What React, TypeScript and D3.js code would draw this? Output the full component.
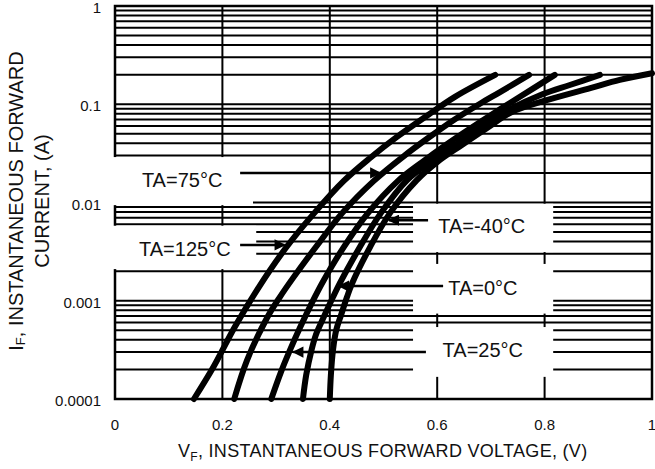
import React from "react";
import * as d3 from "d3";

// forward voltage (V) / forward current (A)
const vf125 = [0.147, 0.183, 0.223, 0.268, 0.318, 0.371, 0.426, 0.475, 0.525, 0.583, 0.633, 0.708];
const if125 = [0.0001, 0.00021, 0.00054, 0.00138, 0.00344, 0.0078, 0.0166, 0.0284, 0.0465, 0.0778, 0.119, 0.199];

const vf75 = [0.222, 0.246, 0.283, 0.307, 0.333, 0.374, 0.423, 0.482, 0.538, 0.583, 0.631, 0.682, 0.717, 0.771];
const if75 = [0.0001, 0.000249, 0.000667, 0.00109, 0.00175, 0.00352, 0.0078, 0.0166, 0.0297, 0.0453, 0.0692, 0.103, 0.133, 0.199];

const vf25 = [0.291, 0.309, 0.326, 0.345, 0.372, 0.389, 0.426, 0.471, 0.527, 0.572, 0.616, 0.663, 0.709, 0.754, 0.819];
const if25 = [0.0001, 0.000188, 0.000316, 0.00054, 0.00109, 0.00163, 0.00352, 0.0078, 0.0166, 0.0258, 0.0385, 0.0573, 0.0834, 0.119, 0.199];

const vf0 = [0.35, 0.356, 0.366, 0.374, 0.382, 0.406, 0.419, 0.456, 0.495, 0.544, 0.587, 0.633, 0.68, 0.726, 0.797, 0.847, 0.903];
const if0 = [0.0001, 0.000175, 0.000316, 0.000448, 0.000566, 0.00109, 0.00152, 0.00352, 0.0078, 0.0169, 0.0258, 0.0385, 0.0573, 0.0834, 0.127, 0.157, 0.199];

const vfM40 = [0.4, 0.402, 0.406, 0.412, 0.421, 0.432, 0.441, 0.475, 0.512, 0.562, 0.6, 0.646, 0.693, 0.739, 0.804, 0.885, 0.94, 1.0];
const ifM40 = [0.0001, 0.000175, 0.000316, 0.000503, 0.000716, 0.00109, 0.00148, 0.00352, 0.0078, 0.0169, 0.0258, 0.0385, 0.0573, 0.0834, 0.11, 0.146, 0.177, 0.207];

const series = [
  {name: "125", vf: vf125, i: if125},
  {name: "75", vf: vf75, i: if75},
  {name: "25", vf: vf25, i: if25},
  {name: "0", vf: vf0, i: if0},
  {name: "-40", vf: vfM40, i: ifM40},
];

const xTicks = [0, 0.2, 0.4, 0.6, 0.8, 1];
const xTickLabels = ["0", "0.2", "0.4", "0.6", "0.8", "1"];
const yTicks = [0.0001, 0.001, 0.01, 0.1, 1];
const yTickLabels = ["0.0001", "0.001", "0.01", "0.1", "1"];

// callouts, in data units: white box [vf0, vf1, iTop, iBottom], arrow [from, tip, current], text centre
const callouts = [
  {label: "TA=75°C", box: [-0.006, 0.257, 0.029, 0.0094], arrow: [0.233, 0.494, 0.02], text: [0.125, 0.0169]},
  {label: "TA=125°C", box: [-0.006, 0.263, 0.0058, 0.0021], arrow: [0.233, 0.316, 0.0037], text: [0.13, 0.00336]},
  {label: "TA=-40°C", box: [0.555, 0.816, 0.0097, 0.00313], arrow: [0.583, 0.51, 0.0066], text: [0.683, 0.00577]},
  {label: "TA=0°C", box: [0.555, 0.816, 0.00237, 0.00074], arrow: [0.611, 0.417, 0.00141], text: [0.685, 0.00135]},
  {label: "TA=25°C", box: [0.555, 0.816, 0.00054, 0.000168], arrow: [0.579, 0.332, 0.0003], text: [0.685, 0.000317]},
];

const W = 655, H = 469;
const margin = {top: 6, right: 3, bottom: 70, left: 115};
const font = "'Liberation Sans', Arial, sans-serif";

export default function App() {
  const x = d3.scaleLinear().domain([0, 1]).range([margin.left, W - margin.right]);
  const y = d3.scaleLog().domain([0.0001, 1]).range([H - margin.bottom, margin.top]);

  const line = d3.line<[number, number]>()
    .x(d => x(d[0]))
    .y(d => y(d[1]))
    .curve(d3.curveCatmullRom.alpha(0.5));

  const hGrid = y.ticks();
  const vGrid = xTicks.slice(1, -1);

  return (
    <svg width={W} height={H} style={{position: "absolute", left: 0, top: 0, background: "#fff"}}
         fontFamily={font}>
      <defs>
        <marker id="head" viewBox="0 0 10 10" refX="9" refY="5" markerWidth="5" markerHeight="4.5"
                orient="auto" markerUnits="strokeWidth">
          <path d="M0,0 L10,5 L0,10 z" fill="#000"/>
        </marker>
      </defs>

      {hGrid.map((t, k) => (
        <line key={"h" + k} x1={x(0)} x2={x(1)} y1={y(t)} y2={y(t)} stroke="#000" strokeWidth={2}/>
      ))}
      {vGrid.map((t, k) => (
        <line key={"v" + k} x1={x(t)} x2={x(t)} y1={y(1)} y2={y(0.0001)} stroke="#000" strokeWidth={2}/>
      ))}
      <rect x={x(0)} y={y(1)} width={x(1) - x(0)} height={y(0.0001) - y(1)} fill="none" stroke="#000" strokeWidth={2.5}/>

      {callouts.map((c, k) => (
        <rect key={"b" + k} x={x(c.box[0])} y={y(c.box[2])} width={x(c.box[1]) - x(c.box[0])}
              height={y(c.box[3]) - y(c.box[2])} fill="#fff"/>
      ))}

      {series.map(s => (
        <path key={s.name} d={line(s.vf.map((v, k) => [v, s.i[k]]) as [number, number][]) || ""}
              fill="none" stroke="#000" strokeWidth={6} strokeLinecap="round" strokeLinejoin="round"/>
      ))}

      {callouts.map((c, k) => (
        <g key={"c" + k}>
          <line x1={x(c.arrow[0])} x2={x(c.arrow[1])} y1={y(c.arrow[2])} y2={y(c.arrow[2])}
                stroke="#000" strokeWidth={2.5} markerEnd="url(#head)"/>
          <text x={x(c.text[0])} y={y(c.text[1])} textAnchor="middle" dominantBaseline="central"
                fontSize={20} fill="#111">{c.label}</text>
        </g>
      ))}

      {yTicks.map((t, k) => (
        <text key={"yt" + k} x={margin.left - 14} y={y(t) + 1.5} textAnchor="end" dominantBaseline="central"
              fontSize={15} fill="#111">{yTickLabels[k]}</text>
      ))}
      {xTicks.map((t, k) => (
        <text key={"xt" + k} x={x(t)} y={430} textAnchor="middle" fontSize={15} fill="#111">{xTickLabels[k]}</text>
      ))}

      <text x={178} y={457} fontSize={18} letterSpacing={0.3} fill="#111">
        V<tspan fontSize={12} dy={4}>F</tspan><tspan dy={-4}>, INSTANTANEOUS FORWARD VOLTAGE, (V)</tspan>
      </text>

      <text transform="translate(16,201) rotate(-90)" textAnchor="middle" dominantBaseline="central"
            fontSize={20} fill="#111">
        I<tspan fontSize={13} dy={4}>F</tspan><tspan dy={-4}>, INSTANTANEOUS FORWARD</tspan>
      </text>
      <text transform="translate(42,201) rotate(-90)" textAnchor="middle" dominantBaseline="central"
            fontSize={20} fill="#111">CURRENT, (A)</text>
    </svg>
  );
}
